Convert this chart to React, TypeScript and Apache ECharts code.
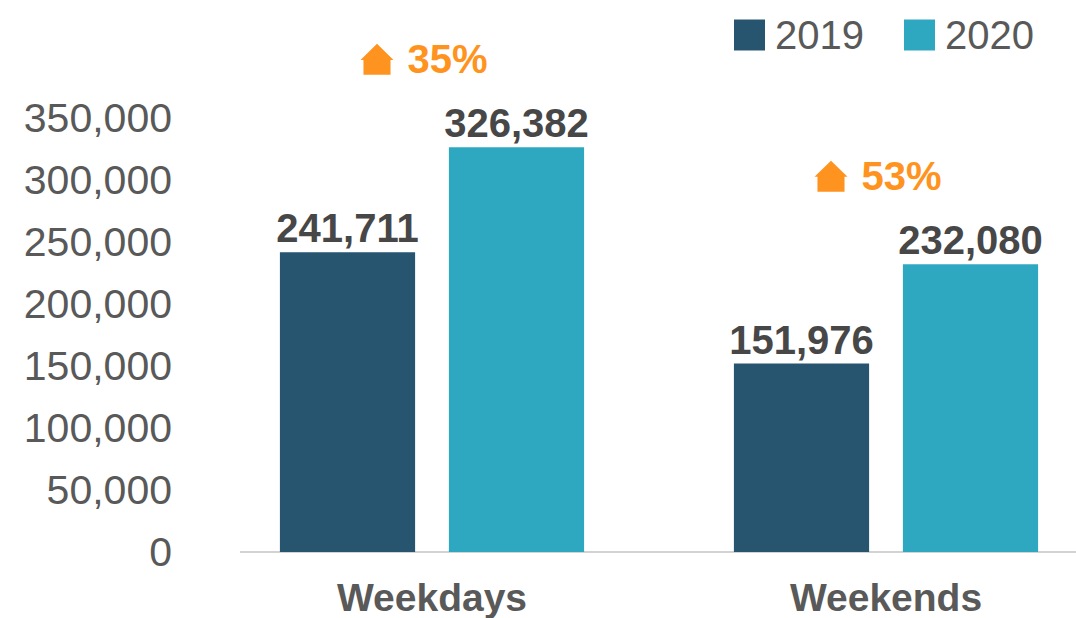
import React, { useEffect, useRef } from "react";
import * as echarts from "echarts";

const categories = ["Weekdays", "Weekends"];
const values2019 = [241711, 151976];
const values2020 = [326382, 232080];
const changeLabels = ["35%", "53%"];
const yTicks = { min: 0, max: 350000, interval: 50000 };

const FONT = "'Liberation Sans', Arial, Helvetica, sans-serif";
const C2019 = "#27546F";
const C2020 = "#2EA8C0";
const ORANGE = "#FF9320";
const HOUSE = "path://M50,0 L100,52 L91,52 L91,100 L9,100 L9,52 L0,52 Z";

const fmt = (v: number) => v.toLocaleString("en-US");

export default function App() {
  const ref = useRef<HTMLDivElement>(null);
  useEffect(() => {
    if (!ref.current) return;
    const chart = echarts.init(ref.current, undefined, { renderer: "svg" });
    const pairMax = categories.map((_, i) => Math.max(values2019[i], values2020[i]));
    chart.setOption({
      animation: false,
      textStyle: { fontFamily: FONT },
      grid: {
        left: 205,
        right: -37,
        top: 118,
        bottom: 66,
        containLabel: false,
        outerBoundsMode: "none",
      },
      legend: {
        data: ["2019", "2020"],
        left: 729,
        top: 10,
        itemWidth: 31,
        itemHeight: 31,
        itemGap: 40,
        icon: "rect",
        textStyle: {
          fontFamily: FONT,
          fontSize: 40,
          color: "#595959",
          padding: [0, 0, 0, 5],
        },
      },
      xAxis: {
        type: "category",
        data: categories,
        axisLine: { show: false },
        axisTick: { show: false },
        axisLabel: {
          fontFamily: FONT,
          fontSize: 39,
          fontWeight: "bold",
          color: "#595959",
          margin: 26,
        },
      },
      yAxis: {
        type: "value",
        min: yTicks.min,
        max: yTicks.max,
        interval: yTicks.interval,
        splitLine: { show: false },
        axisLine: { show: false },
        axisTick: { show: false },
        axisLabel: {
          fontFamily: FONT,
          fontSize: 41,
          color: "#595959",
          margin: 33,
          formatter: (v: number) => fmt(v),
        },
      },
      graphic: [
        {
          type: "line",
          shape: { x1: 240, y1: 552, x2: 1076, y2: 552 },
          style: { stroke: "#d2d2d2", lineWidth: 2 },
          z: 0,
        },
      ],
      series: [
        {
          name: "2019",
          type: "bar",
          data: values2019,
          barGap: "25%",
          barCategoryGap: "33%",
          itemStyle: { color: C2019 },
          label: {
            show: true,
            position: "top",
            distance: 4,
            fontFamily: FONT,
            fontSize: 40,
            fontWeight: "bold",
            color: "#474747",
            formatter: (p: any) => fmt(p.value),
          },
        },
        {
          name: "2020",
          type: "bar",
          data: values2020,
          barGap: "25%",
          barCategoryGap: "33%",
          itemStyle: { color: C2020 },
          label: {
            show: true,
            position: "top",
            distance: 4,
            fontFamily: FONT,
            fontSize: 40,
            fontWeight: "bold",
            color: "#474747",
            formatter: (p: any) => fmt(p.value),
          },
        },
        {
          name: "change",
          type: "scatter",
          data: pairMax,
          symbol: HOUSE,
          symbolSize: [33, 31],
          symbolOffset: [-55, -88],
          itemStyle: { color: ORANGE, opacity: 1 },
          z: 5,
          silent: true,
          label: {
            show: true,
            position: "right",
            distance: 14,
            fontFamily: FONT,
            fontSize: 40,
            fontWeight: "bold",
            color: ORANGE,
            formatter: (p: any) => changeLabels[p.dataIndex],
          },
        },
      ],
    });
    return () => chart.dispose();
  }, []);
  return (
    <div
      ref={ref}
      style={{ position: "fixed", left: 0, top: 0, width: 1076, height: 618, background: "#fff" }}
    />
  );
}
